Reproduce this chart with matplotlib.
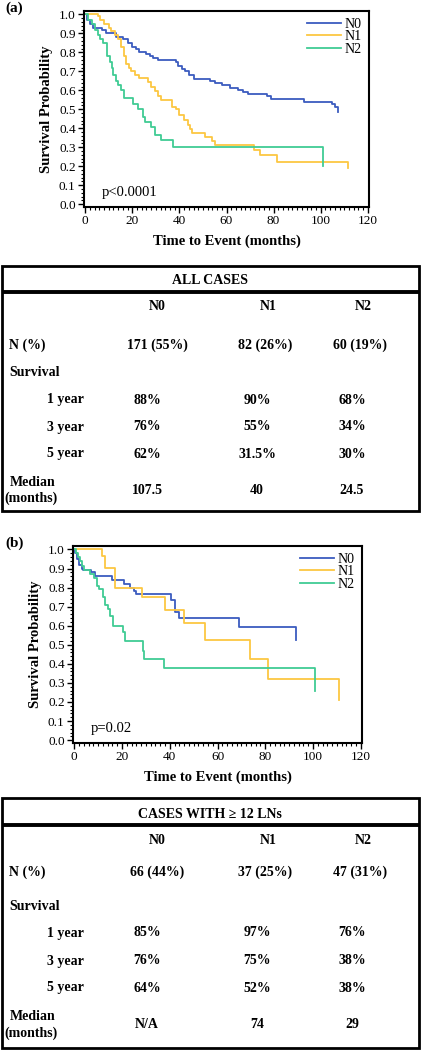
import numpy as np
import matplotlib.pyplot as plt
from matplotlib.patches import Rectangle
from matplotlib.ticker import MultipleLocator, FormatStrFormatter

plt.rcParams['font.family'] = ['Liberation Serif', 'DejaVu Serif']

# ---- Kaplan-Meier curves (time in months, survival after step)
groups = ['N0', 'N1', 'N2']
colors = {'N0': '#3c5cbf', 'N1': '#fcc742', 'N2': '#40cc94'}

a_n0_t = [0, 0.8, 2.0, 3.5, 7.0, 9.0, 13, 16, 18, 20, 21.5, 23, 26, 27.5, 29, 31, 38.5, 39.5,
          41, 42.5, 44, 46, 53, 55, 58, 61.5, 65, 67, 69, 77, 79, 93, 105, 106, 107.5]
a_n0_s = [1.0, 0.97, 0.95, 0.93, 0.92, 0.90, 0.88, 0.87, 0.85, 0.83, 0.82, 0.80, 0.79, 0.78,
          0.77, 0.76, 0.75, 0.73, 0.71, 0.70, 0.68, 0.66, 0.65, 0.64, 0.626, 0.614, 0.60, 0.59,
          0.58, 0.57, 0.556, 0.54, 0.526, 0.51, 0.486]
a_n1_t = [0, 5.6, 6.5, 8, 10, 11, 12.5, 14, 15, 16.5, 17.5, 18.5, 19.5, 21, 23, 26.6, 28, 29.5,
          31, 32, 37, 38.5, 40, 42, 43.5, 44.5, 45.5, 51, 53.7, 55, 71.7, 74.2, 81.6, 111.4]
a_n1_s = [1.0, 0.99, 0.97, 0.95, 0.93, 0.91, 0.89, 0.87, 0.83, 0.78, 0.74, 0.72, 0.70, 0.68,
          0.667, 0.644, 0.62, 0.597, 0.569, 0.548, 0.513, 0.50, 0.469, 0.443, 0.417, 0.394,
          0.376, 0.354, 0.333, 0.314, 0.284, 0.258, 0.223, 0.19]
a_n2_t = [0, 1, 2.8, 4.2, 5.6, 6.3, 7.7, 9.1, 9.4, 10.5, 11.2, 11.9, 13, 14, 15.4, 16.4, 20.3,
          22.4, 24.5, 25.2, 28, 29.5, 32.3, 37.2, 100.8]
a_n2_s = [1.0, 0.97, 0.95, 0.92, 0.89, 0.87, 0.85, 0.83, 0.78, 0.75, 0.72, 0.68, 0.65, 0.63,
          0.60, 0.56, 0.53, 0.504, 0.46, 0.434, 0.408, 0.364, 0.338, 0.303, 0.20]

b_n0_t = [0, 0.5, 1.2, 2.1, 3.1, 3.8, 7.0, 8.7, 15.8, 20.7, 23.5, 25.0, 25.9, 40.6, 42.0, 44.0,
          69.1, 92.9]
b_n0_s = [1.0, 0.98, 0.95, 0.92, 0.90, 0.89, 0.88, 0.86, 0.84, 0.82, 0.80, 0.78, 0.765, 0.734,
          0.673, 0.642, 0.595, 0.525]
b_n1_t = [0, 11.5, 12.7, 17.2, 28.5, 37.9, 45.9, 54.6, 73.8, 81.0, 111.0]
b_n1_s = [1.0, 0.968, 0.905, 0.80, 0.753, 0.683, 0.616, 0.525, 0.424, 0.322, 0.212]
b_n2_t = [0, 0.6, 1.4, 2.4, 3.1, 4.2, 6.5, 8.5, 9.5, 10.5, 12.0, 13.0, 14.1, 15.2, 16.2, 20.3,
          21.4, 28.7, 29.4, 37.6, 100.7]
b_n2_s = [1.0, 0.98, 0.96, 0.94, 0.915, 0.89, 0.87, 0.85, 0.81, 0.79, 0.75, 0.71, 0.69, 0.65,
          0.60, 0.565, 0.52, 0.47, 0.426, 0.38, 0.256]

# ---- table contents
all_n = ['171 (55%)', '82 (26%)', '60 (19%)']
all_1yr = ['88%', '90%', '68%']
all_3yr = ['76%', '55%', '34%']
all_5yr = ['62%', '31.5%', '30%']
all_median = ['107.5', '40', '24.5']

ln_n = ['66 (44%)', '37 (25%)', '47 (31%)']
ln_1yr = ['85%', '97%', '76%']
ln_3yr = ['76%', '75%', '38%']
ln_5yr = ['64%', '52%', '38%']
ln_median = ['N/A', '74', '29']

W, H = 421, 1050
fig = plt.figure(figsize=(W / 100, H / 100), dpi=100)


def px_axes(left, top, right, bottom):
    return fig.add_axes([left / W, 1 - bottom / H, (right - left) / W, (bottom - top) / H])


def km_panel(ax, curves, ptext):
    for name, t, s in curves:
        ax.plot(t, s, drawstyle='steps-post', color=colors[name], lw=1.3, label=name)
    ax.set_xlim(-0.5, 120.5)
    ax.set_ylim(-0.015, 1.018)
    ax.set_xticks(np.arange(0, 121, 20))
    ax.set_yticks(np.arange(0, 1.01, 0.1))
    ax.yaxis.set_major_formatter(FormatStrFormatter('%.1f'))
    ax.xaxis.set_minor_locator(MultipleLocator(2))
    ax.yaxis.set_minor_locator(MultipleLocator(0.02))
    ax.tick_params(which='major', direction='out', length=4, width=1, labelsize=9.5, pad=2)
    ax.tick_params(which='minor', direction='out', length=2, width=0.8)
    for sp in ax.spines.values():
        sp.set_linewidth(1.5)
    ax.set_xlabel('Time to Event (months)', fontsize=10.5, fontweight='bold', labelpad=5)
    ax.set_ylabel('Survival Probability', fontsize=10.5, fontweight='bold', labelpad=4)
    ax.text(7, 0.045, ptext, fontsize=10.5)
    ax.legend(loc='upper right', frameon=False, fontsize=10, handlelength=2.4,
              handletextpad=0.3, labelspacing=-0.05, borderaxespad=0.3, borderpad=0.2)


ax_a = px_axes(84, 11, 369, 207)
km_panel(ax_a, [('N0', a_n0_t, a_n0_s), ('N1', a_n1_t, a_n1_s), ('N2', a_n2_t, a_n2_s)],
         'p<0.0001')
ax_b = px_axes(73, 546, 362, 743)
km_panel(ax_b, [('N0', b_n0_t, b_n0_s), ('N1', b_n1_t, b_n1_s), ('N2', b_n2_t, b_n2_s)],
         'p=0.02')

# overlay in pixel coordinates for the tables and panel letters
tab = fig.add_axes([0, 0, 1, 1])
tab.set_xlim(0, W)
tab.set_ylim(H, 0)
tab.axis('off')

tab.text(5, 8, '(a)', fontsize=11, fontweight='bold', va='center')
tab.text(5, 543, '(b)', fontsize=11, fontweight='bold', va='center')


def draw_table(title, n_vals, yr1, yr3, yr5, med, top, bottom, sep, ys):
    tab.add_patch(Rectangle((1.5, top), 417, bottom - top, fill=False, lw=2.0, ec='black'))
    tab.plot([1.5, 418.5], [sep, sep], color='black', lw=2.8, solid_capstyle='butt')
    kw = dict(fontsize=10, fontweight='bold', va='center')
    tab.text(210, ys[0], title, ha='center', **kw)
    for x, g in zip([157, 268, 363], groups):
        tab.text(x, ys[1], g, ha='center', **kw)
    tab.text(9, ys[2], 'N (%)', ha='left', **kw)
    for x, v in zip([157, 265, 360], n_vals):
        tab.text(x, ys[2], v, ha='center', **kw)
    tab.text(9, ys[3], 'Survival', ha='left', **kw)
    for lab, vals, y in zip(['1 year', '3 year', '5 year'], [yr1, yr3, yr5], ys[4:7]):
        tab.text(47, y, lab, ha='left', **kw)
        for x, v in zip([147, 257, 352], vals):
            tab.text(x, y, v, ha='center', **kw)
    tab.text(33, ys[7], 'Median', ha='center', **kw)
    tab.text(31, ys[8], '(months)', ha='center', **kw)
    for x, v in zip([147, 257, 352], med):
        tab.text(x, ys[9], v, ha='center', **kw)


draw_table('ALL CASES', all_n, all_1yr, all_3yr, all_5yr, all_median,
           266, 511, 292, [281, 307, 345, 372, 400, 427, 454, 483, 498, 491])
draw_table('CASES WITH \u2265 12 LNs', ln_n, ln_1yr, ln_3yr, ln_5yr, ln_median,
           798, 1048, 825, [814, 841, 872, 907, 933, 961, 988, 1017, 1033, 1025])

fig.savefig('out.png', dpi=100)
